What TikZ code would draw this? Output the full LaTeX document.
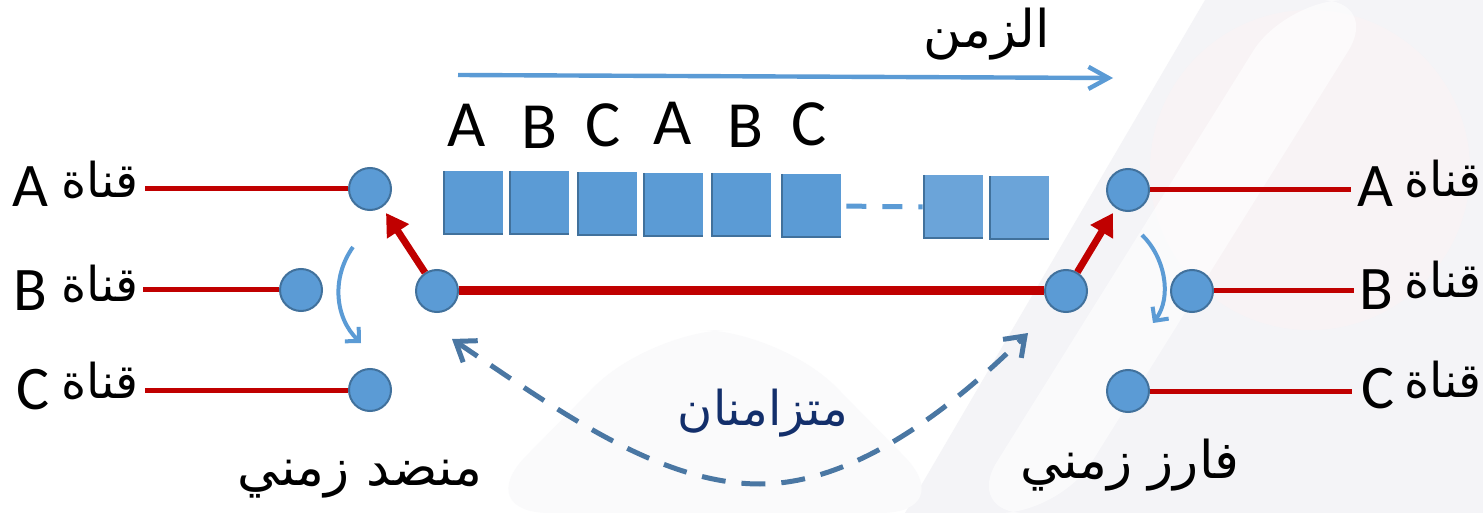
\documentclass[tikz,border=0pt]{standalone}
\usepackage{fontspec}
\setmainfont{Carlito}
\newfontfamily\arabicfont[Script=Arabic]{DejaVu Sans}
\TeXXeTstate=1
\usetikzlibrary{arrows.meta}

\definecolor{cred}{HTML}{C00000}
\definecolor{cblue}{HTML}{5B9BD5}
\definecolor{cedge}{HTML}{41719C}
\definecolor{cdash}{HTML}{4A77A3}
\definecolor{cnavy}{HTML}{132F6B}
\definecolor{wmgray}{HTML}{F4F4F7}
\definecolor{wmpink}{HTML}{FCF3F4}

% Arabic font at a given size
\newcommand\arsize[1]{\fontsize{#1}{#1}\selectfont\arabicfont}
% Latin letter at a given size
\newcommand\latxt[2]{{\fontsize{#1}{#1}\selectfont #2}}

\tikzset{
  dot/.style={circle, minimum size=21pt, inner sep=0pt, fill=cblue, draw=cedge, line width=1pt},
  chan/.style={cred, line width=2.5pt},
  trunk/.style={cred, line width=4.5pt},
  sel/.style={cred, line width=3.5pt, -{Triangle[length=11pt,width=12.5pt]}},
  turn/.style={cblue, line width=2pt, -{Straight Barb[length=5pt,width=10pt,line width=2pt]}},
  slot/.style={minimum width=30pt, minimum height=32pt, inner sep=0pt, fill=cblue,
    path picture={\draw[cedge, line width=2pt]
      (path picture bounding box.north west) -- (path picture bounding box.south west)
      -- (path picture bounding box.south east);}},
  letter/.style={anchor=base, inner sep=0pt},
  lbl/.style={anchor=base, inner sep=0pt},
}

\begin{document}
\begin{tikzpicture}[x=0.5pt, y=-0.5pt]
\useasboundingbox (0,0) rectangle (1483,513);
\fill[white] (0,0) rectangle (1483,513);

% faint background watermark
\fill[wmgray] (905,513) -- (1205,0) -- (1483,0) -- (1483,513) -- cycle;
\fill[wmpink, opacity=.6] (1310,170) circle (160);
\fill[white, opacity=.6, rounded corners=30pt] (965,513) -- (1060,513) -- (1380,0) -- (1285,0) -- cycle;
\fill[wmgray!45, rounded corners=40pt] (470,513) -- (650,330) -- (780,330) -- (960,513) -- cycle;

% time axis
\coordinate (t0) at (458,75);
\coordinate (t1) at (1113,78);
\draw[cblue, line width=2.2pt, -{Straight Barb[length=10pt,width=11pt,line width=2.2pt]}] (t0) -- (t1);
\node[lbl] (time) at (987,48) {\arsize{26pt}\beginR الزمن\endR};

% slot letters
\node[letter] (la1) at (467,147) {\latxt{33pt}{A}};
\node[letter] (lb1) at (539,149) {\latxt{33pt}{B}};
\node[letter] (lc1) at (603,147) {\latxt{33pt}{C}};
\node[letter] (la2) at (673,145) {\latxt{33pt}{A}};
\node[letter] (lb2) at (745,148) {\latxt{33pt}{B}};
\node[letter] (lc2) at (809,146) {\latxt{33pt}{C}};

% time slots
\node[slot] (s1) at (473,203) {};
\node[slot] (s2) at (539,203) {};
\node[slot] (s3) at (607,204) {};
\node[slot] (s4) at (673,205) {};
\node[slot] (s5) at (741,205) {};
\node[slot] (s6) at (811,206) {};
\node[slot, fill opacity=.9] (s7) at (953,207) {};
\node[slot, fill opacity=.9] (s8) at (1019,208) {};
\draw[cblue, line width=2.5pt, dash pattern=on 10pt off 8pt, shorten <=2.5pt] (s6.east) -- (s7.west);

% multiplexer side
\node[dot] (lA) at (370,189) {};
\node[dot] (lB) at (301,290) {};
\node[dot] (lC) at (370,390) {};
\node[dot] (lP) at (437,291) {};
\coordinate (la0) at (145,189);
\coordinate (lb0) at (143,290);
\coordinate (lc0) at (145,390);
\draw[chan] (la0) -- (lA);
\draw[chan] (lb0) -- (lB);
\draw[chan] (lc0) -- (lC);
\coordinate (ltip) at (386,213);
\draw[sel] (lP) -- (ltip);
\coordinate (lcs) at (353,247);
\coordinate (lce) at (361,343);
\draw[turn] (lcs) .. controls (331,278) and (335,318) .. (lce);

% demultiplexer side
\node[dot] (rA) at (1128,190) {};
\node[dot] (rB) at (1192,291) {};
\node[dot] (rC) at (1128,391) {};
\node[dot] (rP) at (1066,291) {};
\coordinate (ra0) at (1351,190);
\coordinate (rb0) at (1354,291);
\coordinate (rc0) at (1352,391);
\draw[chan] (rA) -- (ra0);
\draw[chan] (rB) -- (rb0);
\draw[chan] (rC) -- (rc0);
\coordinate (rtip) at (1113,213);
\draw[sel] (rP) -- (rtip);
\coordinate (rcs) at (1142,235);
\coordinate (rce) at (1153,323);
\draw[turn] (rcs) .. controls (1164,256) and (1173,296) .. (rce);

% link between the two switches
\draw[trunk] (lP) -- (rP);

% synchronisation arrow
\coordinate (sL) at (452,339);
\coordinate (sB) at (760,484);
\coordinate (sR) at (1028,333);
\draw[cdash, line width=2.5pt, dash pattern=on 12pt off 8pt,
  {Straight Barb[length=9pt,width=13pt,line width=2.5pt]}-{Straight Barb[length=9pt,width=13pt,line width=2.5pt]}]
  (sL) .. controls (560,412) and (660,484) .. (sB) .. controls (860,484) and (960,400) .. (sR);
\node[lbl, text=cnavy] (sync) at (763,425) {\arsize{24pt}\beginR متزامنان\endR};

% switch names
\node[lbl] (mux) at (360,485) {\arsize{26pt}\beginR منضد زمني\endR};
\node[lbl] (demux) at (1130,478) {\arsize{26pt}\beginR فارز زمني\endR};

% channel labels, left
\node[lbl] (lAl) at (30,207) {\latxt{31pt}{A}};
\node[lbl] (lAw) at (100,198) {\arsize{24pt}\beginR قناة\endR};
\node[lbl] (lBl) at (30,310) {\latxt{31pt}{B}};
\node[lbl] (lBw) at (100,301) {\arsize{24pt}\beginR قناة\endR};
\node[lbl] (lCl) at (33,409) {\latxt{31pt}{C}};
\node[lbl] (lCw) at (100,398) {\arsize{24pt}\beginR قناة\endR};

% channel labels, right
\node[lbl] (rAl) at (1375,207) {\latxt{31pt}{A}};
\node[lbl] (rAw) at (1443,197) {\arsize{24pt}\beginR قناة\endR};
\node[lbl] (rBl) at (1376,309) {\latxt{31pt}{B}};
\node[lbl] (rBw) at (1443,298) {\arsize{24pt}\beginR قناة\endR};
\node[lbl] (rCl) at (1378,408) {\latxt{31pt}{C}};
\node[lbl] (rCw) at (1443,397) {\arsize{24pt}\beginR قناة\endR};
\end{tikzpicture}
\end{document}
